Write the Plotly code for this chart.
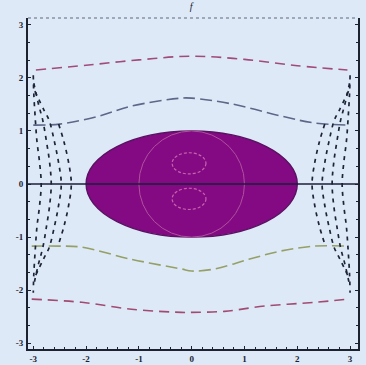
import plotly.graph_objects as go

# --- data -------------------------------------------------------------
# outer dashed curves above and below the body
top_x = [-2.95, -2.0, -1.0, 0.0, 1.0, 2.0, 2.95]
top_y = [2.15, 2.24, 2.34, 2.41, 2.35, 2.23, 2.15]

upper_x = [-3.0, -2.5, -1.76, -1.14, -0.2, 0.0, 0.76, 1.7, 2.33, 2.97]
upper_y = [1.11, 1.13, 1.28, 1.47, 1.62, 1.62, 1.51, 1.28, 1.15, 1.11]

lower_x = [-3.03, -2.5, -2.08, -1.14, -0.2, 0.0, 0.44, 1.08, 1.7, 2.33, 2.97]
lower_y = [-1.17, -1.17, -1.19, -1.42, -1.6, -1.64, -1.6, -1.42, -1.26, -1.17, -1.17]

bottom_x = [-3.03, -2.08, -1.14, -0.2, 0.0, 0.62, 1.38, 2.33, 2.97]
bottom_y = [-2.17, -2.23, -2.36, -2.42, -2.42, -2.4, -2.3, -2.23, -2.17]

# side arcs (left side; right side is the mirror image)
arc_y = [
    [2.05, 1.7, 1.2, 0.8, 0.4, 0.0, -0.4, -0.8, -1.2, -1.7, -2.05],
    [1.9, 1.5, 1.2, 0.8, 0.4, 0.0, -0.4, -0.8, -1.2, -1.5, -1.9],
    [1.75, 1.4, 1.2, 0.8, 0.4, 0.0, -0.4, -0.8, -1.2, -1.4, -1.75],
    [1.13, 0.8, 0.4, 0.0, -0.4, -0.8, -1.13],
]
arc_x = [
    [-3.0, -2.99, -2.96, -2.93, -2.88, -2.85, -2.88, -2.93, -2.96, -2.99, -3.0],
    [-2.99, -2.9, -2.82, -2.75, -2.69, -2.66, -2.69, -2.75, -2.82, -2.9, -2.99],
    [-2.97, -2.8, -2.7, -2.6, -2.52, -2.47, -2.52, -2.6, -2.7, -2.8, -2.97],
    [-2.52, -2.42, -2.33, -2.28, -2.33, -2.42, -2.52],
]

# body and inner rings
ellipse_a, ellipse_b = 2.0, 1.0
ring_r = 1.0
small_rings = [(-0.05, 0.39, 0.32, 0.2), (-0.05, -0.28, 0.32, 0.2)]

x_ticks = [-3, -2, -1, 0, 1, 2, 3]
y_ticks = [-3, -2, -1, 0, 1, 2, 3]

BG = "#dde9f7"

fig = go.Figure()

curve_styles = [
    (top_x, top_y, "#a14b7c", "10px,6px"),
    (upper_x, upper_y, "#5d6788", "12px,5px"),
    (lower_x, lower_y, "#95a066", "12px,5px"),
    (bottom_x, bottom_y, "#a14b72", "10px,6px"),
]
for xs, ys, col, dash in curve_styles:
    fig.add_trace(go.Scatter(x=xs, y=ys, mode="lines",
                             line=dict(color=col, width=1.6, dash=dash, shape="spline"),
                             hoverinfo="skip"))

for xs, ys in zip(arc_x, arc_y):
    for sign in (1, -1):
        fig.add_trace(go.Scatter(x=[sign * v for v in xs], y=ys, mode="lines",
                                 line=dict(color="#1e2438", width=1.7, dash="4px,5px",
                                           shape="spline"),
                                 hoverinfo="skip"))

shapes = [
    dict(type="circle", xref="x", yref="y", x0=-ellipse_a, x1=ellipse_a,
         y0=-ellipse_b, y1=ellipse_b, fillcolor="#830a83",
         line=dict(color="#5a1262", width=1.4), layer="above"),
    dict(type="circle", xref="x", yref="y", x0=-ring_r, x1=ring_r,
         y0=-ring_r, y1=ring_r, line=dict(color="#b0509e", width=1), layer="above"),
]
for cx, cy, rx, ry in small_rings:
    shapes.append(dict(type="circle", xref="x", yref="y", x0=cx - rx, x1=cx + rx,
                       y0=cy - ry, y1=cy + ry,
                       line=dict(color="#c862ae", width=1.2, dash="3px,2px"), layer="above"))
# axis line through the origin
shapes.append(dict(type="line", xref="paper", yref="y", x0=0, x1=1, y0=0, y1=0,
                   line=dict(color="#1a1f3a", width=1.4), layer="above"))
# dotted top frame
shapes.append(dict(type="line", xref="paper", yref="paper", x0=0, x1=1, y0=1, y1=1,
                   line=dict(color="#8a93a8", width=1.5, dash="dot"), layer="above"))
fig.update_layout(shapes=shapes)

axis_font = dict(family="Liberation Serif", size=9, color="#1c2230", weight="bold")
fig.update_xaxes(range=[-3.1, 3.15], tickvals=x_ticks, ticktext=[str(v) for v in x_ticks],
                 showgrid=False, zeroline=False, showline=True, linecolor="#1c2230",
                 linewidth=2, ticks="inside", ticklen=3, tickcolor="#1c2230",
                 minor=dict(dtick=0.2, ticks="inside", ticklen=2, tickcolor="#1c2230"),
                 tickfont=axis_font, ticklabelstandoff=0, mirror=False, automargin=False)
fig.update_yaxes(range=[-3.11, 3.13], tickvals=y_ticks, ticktext=[str(v) for v in y_ticks],
                 showgrid=False, zeroline=False, showline=True, linecolor="#1c2230",
                 linewidth=2, ticks="inside", ticklen=3, tickcolor="#1c2230",
                 minor=dict(dtick=1 / 3, ticks="inside", ticklen=2, tickcolor="#1c2230"),
                 tickfont=axis_font, ticklabelstandoff=1, mirror="allticks", automargin=False)

fig.update_layout(
    width=366, height=365,
    margin=dict(l=28, r=8, t=18, b=16),
    paper_bgcolor=BG, plot_bgcolor=BG,
    showlegend=False,
    title=dict(text="<i>f</i>", x=0.522, xanchor="center", y=0.982, yanchor="middle",
               font=dict(family="Liberation Serif", size=10, color="#1c2230")),
)

fig.write_html("out.html")
